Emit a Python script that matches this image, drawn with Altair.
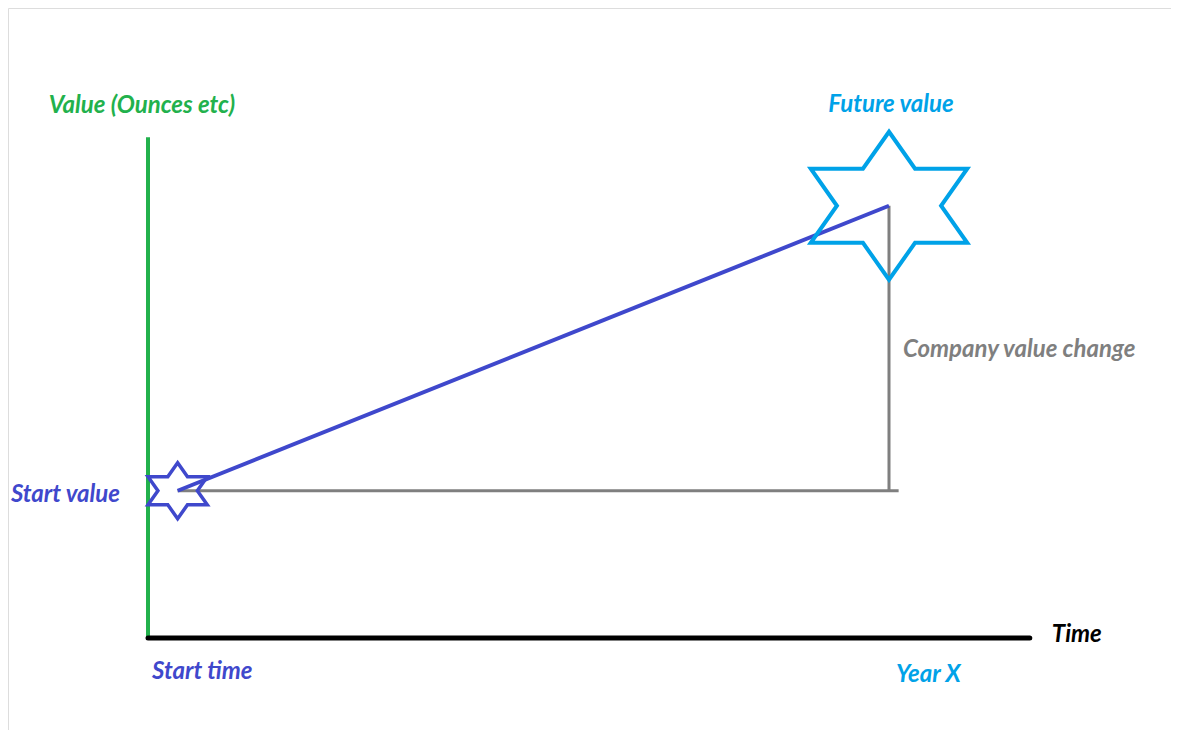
import altair as alt
import pandas as pd

# ---- data ----
time_labels = ["Start time", "Year X"]
time_points = [0.4, 10.0]
value_labels = ["Start value", "Future value"]
value_points = [31, 91]
axis_time_max = 11.9
axis_value_max = 105
axis_time_label = "Time"
axis_value_label = "Value (Ounces etc)"
change_label = "Company value change"
baseline_end = 10.13

GREEN = "#22b14c"
BLUE = "#3f48cc"
LBLUE = "#00a2e8"
GRAY = "#7f7f7f"
FONT = "Lato"

xs = alt.Scale(domain=[0, 10], range=[140, 881], nice=False, zero=False)
ys = alt.Scale(domain=[0, 100], range=[630, 155], nice=False, zero=False)

def X(field):
    return alt.X(field, type="quantitative", scale=xs, axis=None)

def Y(field):
    return alt.Y(field, type="quantitative", scale=ys, axis=None)

# axes
yaxis_df = pd.DataFrame({"t": [0], "v0": [0], "v1": [axis_value_max]})
xaxis_df = pd.DataFrame({"v": [0], "t0": [0], "t1": [axis_time_max]})

green_axis = alt.Chart(yaxis_df).mark_rule(color=GREEN, strokeWidth=4, strokeCap="square").encode(
    x=X("t"), y=Y("v0"), y2="v1")
black_axis = alt.Chart(xaxis_df).mark_rule(color="black", strokeWidth=5, strokeCap="round").encode(
    y=Y("v"), x=X("t0"), x2="t1")

# gray change lines
hgray_df = pd.DataFrame({"v": [value_points[0]], "t0": [time_points[0]], "t1": [baseline_end]})
vgray_df = pd.DataFrame({"t": [time_points[1]], "v0": [value_points[0]], "v1": [value_points[1]]})
hgray = alt.Chart(hgray_df).mark_rule(color=GRAY, strokeWidth=3).encode(y=Y("v"), x=X("t0"), x2="t1")
vgray = alt.Chart(vgray_df).mark_rule(color=GRAY, strokeWidth=3).encode(x=X("t"), y=Y("v0"), y2="v1")

# growth line
pts_df = pd.DataFrame({"t": time_points, "v": value_points, "label": value_labels})
growth = alt.Chart(pts_df).mark_line(color=BLUE, strokeWidth=4).encode(x=X("t"), y=Y("v"))

# stars
sx = 1.22
o = 0.866 * sx
i1 = 0.2887 * sx
i2 = 0.5774 * sx
star = (f"M0,-1L{i1:.3f},-0.5L{o:.3f},-0.5L{i2:.3f},0L{o:.3f},0.5L{i1:.3f},0.5L0,1"
        f"L{-i1:.3f},0.5L{-o:.3f},0.5L{-i2:.3f},0L{-o:.3f},-0.5L{-i1:.3f},-0.5Z")

small_star = alt.Chart(pts_df.iloc[[0]]).mark_point(
    shape=star, size=3136, filled=False, stroke=BLUE, strokeWidth=3.5, opacity=1,
    strokeJoin="miter").encode(x=X("t"), y=Y("v"))
big_star = alt.Chart(pts_df.iloc[[1]]).mark_point(
    shape=star, size=21904, filled=False, stroke=LBLUE, strokeWidth=4, opacity=1,
    strokeJoin="miter").encode(x=X("t"), y=Y("v"))

def txt(df, color, **kw):
    return alt.Chart(df).mark_text(font=FONT, fontSize=24, fontStyle="italic", fontWeight="bold",
                                   color=color, baseline="alphabetic", **kw).encode(
        x=X("t"), y=Y("v"), text="label:N")

t_value_axis = txt(pd.DataFrame({"t": [0], "v": [axis_value_max], "label": [axis_value_label]}),
                   GREEN, align="center", dx=-6, dy=-26)
t_future = txt(pd.DataFrame({"t": [time_points[1]], "v": [value_points[1]], "label": [value_labels[1]]}),
               LBLUE, align="center", dx=2, dy=-94)
t_change = txt(pd.DataFrame({"t": [time_points[1]], "v": [(value_points[0] + value_points[1]) / 2],
                             "label": [change_label]}), GRAY, align="left", dx=14, dy=9)
t_start_val = txt(pd.DataFrame({"t": [0], "v": [value_points[0]], "label": [value_labels[0]]}),
                  BLUE, align="right", dx=-28, dy=11)
t_start_time = txt(pd.DataFrame({"t": [0], "v": [0], "label": [time_labels[0]]}),
                   BLUE, align="left", dx=4, dy=41)
t_year = txt(pd.DataFrame({"t": [time_points[1]], "v": [0], "label": [time_labels[1]]}),
             LBLUE, align="left", dx=7, dy=44)
t_time = txt(pd.DataFrame({"t": [axis_time_max], "v": [0], "label": [axis_time_label]}),
             "black", align="left", dx=22, dy=4)

chart = alt.layer(
    hgray, vgray, growth, green_axis, black_axis, small_star, big_star,
    t_value_axis, t_future, t_change, t_start_val, t_start_time, t_year, t_time,
).properties(
    width=1163, height=722, padding=0,
    autosize=alt.AutoSizeParams(type="none"),
).configure_view(stroke="transparent", strokeWidth=0).configure(background="white")

chart.save("out.html", embed_options={"renderer": "svg", "actions": False})
